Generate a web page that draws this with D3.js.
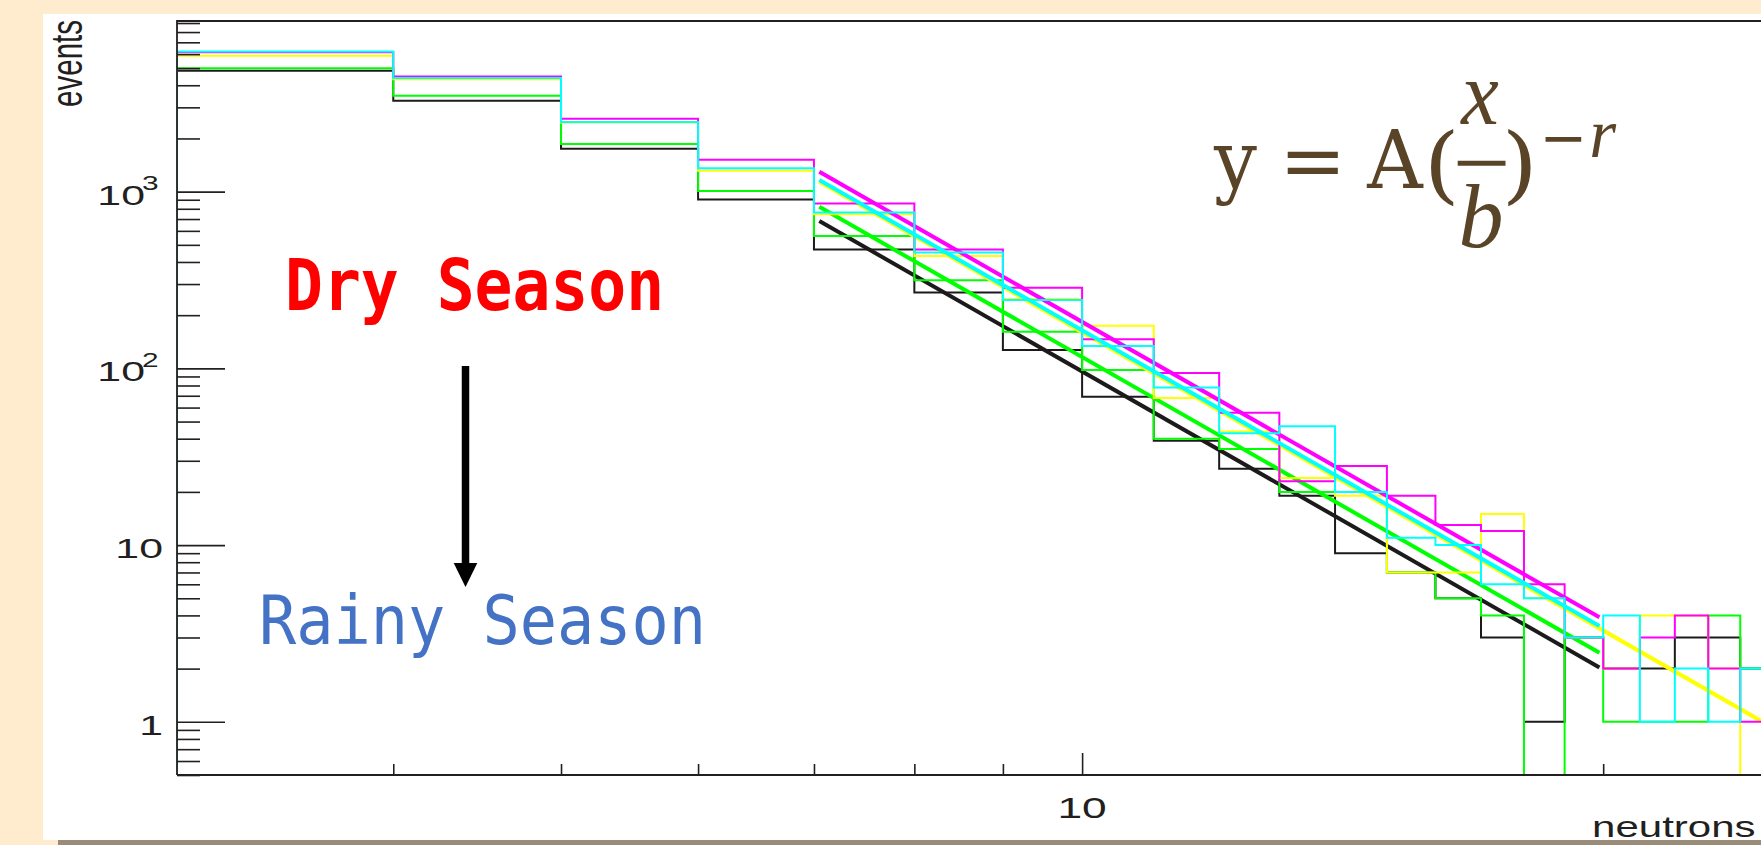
<!DOCTYPE html>
<html>
<head>
<meta charset="utf-8">
<script src="https://cdn.jsdelivr.net/npm/d3@7"></script>
<style>
  html, body { margin: 0; padding: 0; background: #ffebcd; overflow: hidden; }
  svg { display: block; }
</style>
</head>
<body>
<svg width="1761" height="845"></svg>
<script>
const svg = d3.select('svg');
const width = 1761;
const height = 845;

// bin lower edges (neutrons), each bin is 1 wide
const binLow = [3, 4, 5, 6, 7, 8, 9, 10, 11, 12, 13, 14, 15, 16, 17, 18, 19, 20, 21, 22, 23, 24];
const binWidth = 1;

// counts per bin
const blackCounts   = [4835, 3268, 1749, 904, 471, 269, 127, 69, 39, 27, 19, 9, 7, 5, 3, 1, 3, 2, 2, 3, 3, 2];
const greenCounts   = [4990, 3490, 1860, 1008, 561, 315, 161, 98, 40, 35, 20, 20, 7, 5, 4, 0, 3, 1, 1, 1, 4, 2];
const yellowCounts  = [5880, 4323, 2460, 1313, 745, 432, 247, 174, 68, 44, 24, 19, 7, 7, 15, 5, 3, 2, 4, 4, 2, 0];
const magentaCounts = [6150, 4490, 2585, 1515, 858, 471, 286, 146, 94, 56, 23, 28, 19, 13, 12, 6, 3, 2, 3, 4, 2, 1];
const cyanCounts    = [6200, 4395, 2476, 1355, 762, 453, 244, 134, 78, 43, 47, 20, 11, 10, 6, 5, 3, 4, 1, 2, 1, 2];

// power-law fits: end points [x, y]
const blackFit   = [[7.05, 682], [19.9, 2.03]];
const greenFit   = [[7.05, 821], [19.9, 2.46]];
const yellowFit  = [[7.05, 1138], [25, 0.94]];
const magentaFit = [[7.05, 1296], [19.9, 3.9]];
const cyanFit    = [[7.05, 1163], [19.9, 3.48]];

// axis ticks
const xMinorTicks = [4, 5, 6, 7, 8, 9, 20];
const xMajorTicks = [10];
const xTickLabels = ['10'];
const yMajorTicks = [1, 10, 100, 1000];
const yLabelBase = ['1', '10', '10', '10'];
const yLabelExp = ['', '', '2', '3'];

const series = [
  { counts: blackCounts, fit: blackFit, color: '#1c1a1a' },
  { counts: greenCounts, fit: greenFit, color: '#00ff00' },
  { counts: yellowCounts, fit: yellowFit, color: '#ffff00' },
  { counts: magentaCounts, fit: magentaFit, color: '#ff00ff' },
  { counts: cyanCounts, fit: cyanFit, color: '#00ffff' },
];

const plotLeft = 177, plotTop = 21, plotBottom = 775;
const x = d3.scaleLog().domain([3, 30]).range([plotLeft, plotLeft + 1731]);
const y = d3.scaleLog().domain([0.5, 9240]).range([plotBottom, plotTop]);

// page panel
svg.append('rect').attr('width', width).attr('height', height).attr('fill', '#ffebcd');
svg.append('rect').attr('x', 58).attr('y', 840).attr('width', width).attr('height', 5).attr('fill', '#9a8c78');
svg.append('rect').attr('x', 43).attr('y', 14).attr('width', width).attr('height', 826).attr('fill', '#fff');

svg.append('clipPath').attr('id', 'plot')
  .append('rect').attr('x', plotLeft).attr('y', plotTop).attr('width', width - plotLeft).attr('height', plotBottom - plotTop);

const plot = svg.append('g').attr('clip-path', 'url(#plot)');

function histPath(counts) {
  const pts = [[x(binLow[0]), plotBottom]];
  counts.forEach((c, i) => {
    const yy = c > 0 ? y(c) : plotBottom;
    pts.push([x(binLow[i]), yy], [x(binLow[i] + binWidth), yy]);
  });
  pts.push([x(binLow[binLow.length - 1] + binWidth), plotBottom]);
  return d3.line()(pts);
}

const fitLine = d3.line().x((d) => x(d[0])).y((d) => y(d[1]));

series.forEach((s) => {
  plot.append('path')
    .attr('d', histPath(s.counts))
    .attr('fill', 'none')
    .attr('stroke', s.color)
    .attr('stroke-width', 2);
  plot.append('path')
    .attr('d', fitLine(s.fit))
    .attr('fill', 'none')
    .attr('stroke', s.color)
    .attr('stroke-width', 4);
});

// ticks (inward, ROOT style)
const tickColor = '#231f20';
function styleAxis(g) {
  g.select('.domain').remove();
  g.selectAll('line').attr('stroke', tickColor).attr('stroke-width', 1.6);
  g.selectAll('text').remove();
}
const yMinor = y.ticks().filter((v) => !yMajorTicks.includes(v));
svg.append('g').attr('transform', `translate(${plotLeft},0)`)
  .call(d3.axisRight(y).tickValues(yMinor).tickSize(23).tickFormat(''))
  .call(styleAxis);
svg.append('g').attr('transform', `translate(${plotLeft},0)`)
  .call(d3.axisRight(y).tickValues(yMajorTicks).tickSize(48).tickFormat(''))
  .call(styleAxis);
svg.append('g').attr('transform', `translate(0,${plotBottom})`)
  .call(d3.axisTop(x).tickValues(xMinorTicks).tickSize(11).tickFormat(''))
  .call(styleAxis);
svg.append('g').attr('transform', `translate(0,${plotBottom})`)
  .call(d3.axisTop(x).tickValues(xMajorTicks).tickSize(22).tickFormat(''))
  .call(styleAxis);

// frame
svg.append('path')
  .attr('d', `M${plotLeft},${plotBottom}V${plotTop}H${width + 10}M${plotLeft},${plotBottom}H${width + 10}`)
  .attr('fill', 'none')
  .attr('stroke', tickColor)
  .attr('stroke-width', 1.8);

// stretched helvetica-like text
function label(str, px, py, size, anchor, sx = 1.53) {
  return svg.append('text')
    .attr('transform', `translate(${px},${py}) scale(${sx},1)`)
    .attr('text-anchor', anchor)
    .attr('font-family', 'Liberation Sans, Arial, sans-serif')
    .attr('font-size', size)
    .attr('fill', tickColor)
    .text(str);
}

yMajorTicks.forEach((v, i) => {
  const base = y(v) + 13;
  if (yLabelExp[i]) {
    label(yLabelBase[i], 145, base, 28, 'end');
    label(yLabelExp[i], 142, base - 14.3, 19.5, 'start');
  } else {
    label(yLabelBase[i], 163, base, 28, 'end');
  }
});
xMajorTicks.forEach((v, i) => {
  label(xTickLabels[i], x(v), 817.5, 29, 'middle');
});
label('neutrons', 1592, 836.5, 29, 'start', 1.45);

svg.append('text')
  .attr('transform', 'translate(82,20) scale(1.5,1) rotate(-90)')
  .attr('text-anchor', 'end')
  .attr('font-family', 'Liberation Sans, Arial, sans-serif')
  .attr('font-size', 29.5)
  .attr('fill', tickColor)
  .text('events');

// annotations
svg.append('text')
  .attr('transform', 'translate(285,310) scale(0.875,1)')
  .attr('font-family', 'DejaVu Sans Mono, monospace')
  .attr('font-weight', 'bold')
  .attr('font-size', 72)
  .attr('fill', '#ff0000')
  .text('Dry Season');

svg.append('text')
  .attr('transform', 'translate(259,644) scale(0.91,1)')
  .attr('font-family', 'DejaVu Sans Mono, monospace')
  .attr('font-size', 68)
  .attr('fill', '#4472c4')
  .text('Rainy Season');

svg.append('line')
  .attr('x1', 465.5).attr('y1', 366).attr('x2', 465.5).attr('y2', 565)
  .attr('stroke', '#000').attr('stroke-width', 7.5);
svg.append('path')
  .attr('d', 'M453.7,563L477.3,563L465.5,587Z')
  .attr('fill', '#000');

// formula  y = A(x/b)^-r
const fColor = '#5a4427';
const fGlyphs = [
  { t: 'y', cx: 1235.5, by: 188.3, size: 80, it: false, s: 0.95 },
  { t: '=', cx: 1312.8, by: 188.3, size: 80, it: false, s: 1.0 },
  { t: 'A', cx: 1394.9, by: 188.3, size: 80, it: false, s: 0.96 },
  { t: '(', cx: 1441.8, by: 193, size: 84, it: false, s: 1.1 },
  { t: 'x', cx: 1480, by: 124, size: 92, it: true, s: 0.92 },
  { t: 'b', cx: 1481, by: 246.7, size: 90, it: true, s: 1.0 },
  { t: ')', cx: 1519.7, by: 193, size: 84, it: false, s: 1.1 },
  { t: '\u2212', cx: 1563.5, by: 158, size: 60, it: false, s: 0.95 },
  { t: 'r', cx: 1602.7, by: 156.7, size: 69, it: true, s: 1.0 },
];
const formula = svg.append('g').attr('fill', fColor);
fGlyphs.forEach((gl) => {
  formula.append('text')
    .attr('transform', `translate(${gl.cx},${gl.by}) scale(${gl.s},1)`)
    .attr('text-anchor', 'middle')
    .attr('font-family', gl.it ? 'Liberation Serif, serif' : 'DejaVu Serif, serif')
    .attr('font-size', gl.size)
    .attr('font-style', gl.it ? 'italic' : 'normal')
    .text(gl.t);
});
formula.append('line')
  .attr('x1', 1457.7).attr('x2', 1505.5).attr('y1', 163.3).attr('y2', 163.3)
  .attr('stroke', fColor).attr('stroke-width', 5);
</script>
</body>
</html>
